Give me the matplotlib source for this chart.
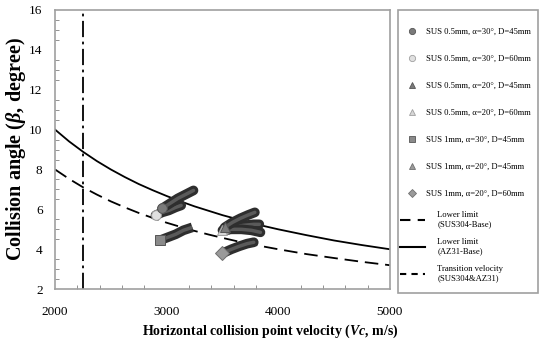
import matplotlib
matplotlib.use("Agg")
import matplotlib.pyplot as plt
from matplotlib.lines import Line2D
from matplotlib.patches import Rectangle
from matplotlib.ticker import MultipleLocator

plt.rcParams['font.family'] = ['Liberation Serif', 'DejaVu Serif']
plt.rcParams['mathtext.fontset'] = 'custom'
plt.rcParams['mathtext.rm'] = 'Liberation Serif:bold'
plt.rcParams['mathtext.it'] = 'Liberation Serif:italic:bold'
plt.rcParams['mathtext.bf'] = 'Liberation Serif:bold'

# limit curves
vc = [2000, 2125, 2250, 2375, 2500, 2625, 2750, 2875, 3000, 3125, 3250, 3375,
      3500, 3625, 3750, 3875, 4000, 4250, 4500, 4750, 5000]
az31_limit = [10.0, 9.41, 8.89, 8.42, 8.0, 7.62, 7.27, 6.96, 6.67, 6.4, 6.15, 5.93,
              5.71, 5.52, 5.33, 5.16, 5.0, 4.71, 4.44, 4.21, 4.0]
sus304_limit = [8.0, 7.53, 7.11, 6.74, 6.4, 6.1, 5.82, 5.57, 5.33, 5.12, 4.92, 4.74,
                4.57, 4.41, 4.27, 4.13, 4.0, 3.76, 3.56, 3.37, 3.2]
transition_vc = 2250

# experiments (first point = front marker)
labels = ["SUS 0.5mm, α=30°, D=45mm", "SUS 0.5mm, α=30°, D=60mm",
          "SUS 0.5mm, α=20°, D=45mm", "SUS 0.5mm, α=20°, D=60mm",
          "SUS 1mm, α=30°, D=45mm", "SUS 1mm, α=20°, D=45mm",
          "SUS 1mm, α=20°, D=60mm"]
xs = [[2960, 3030, 3100, 3170, 3240],
      [2900, 2960, 3020, 3080, 3130],
      [3520, 3590, 3660, 3730, 3790],
      [3500, 3580, 3670, 3760, 3840],
      [2940, 3010, 3080, 3150, 3230],
      [3510, 3600, 3690, 3780, 3830],
      [3500, 3580, 3650, 3720, 3780]]
ys = [[6.05, 6.3, 6.55, 6.75, 6.95],
      [5.7, 5.85, 5.95, 6.1, 6.2],
      [5.1, 5.35, 5.55, 5.72, 5.85],
      [4.95, 5.0, 5.0, 4.95, 4.85],
      [4.45, 4.6, 4.75, 4.95, 5.1],
      [5.0, 5.12, 5.2, 5.25, 5.25],
      [3.8, 4.0, 4.15, 4.28, 4.35]]
markers = ['o', 'o', '^', '^', 's', '^', 'D']
faces = ['#7a7a7a', '#e0e0e0', '#7a7a7a', '#d6d6d6', '#8a8a8a', '#9a9a9a', '#9a9a9a']
edges = ['#555555', '#a0a0a0', '#555555', '#a0a0a0', '#555555', '#707070', '#707070']

fig = plt.figure(figsize=(5.4, 3.43), dpi=100)
ax = fig.add_axes([0.102, 0.157, 0.620, 0.814])

ax.plot(vc, sus304_limit, color='black', lw=1.3, dashes=(7.5, 3.8))
ax.plot(vc, az31_limit, color='black', lw=1.3)
ax.axvline(transition_vc, color='black', lw=1.3, dashes=(9, 2.5, 1.5, 2.5))

for i in range(len(labels))[::-1]:
    cap = 'butt' if markers[i] == 's' else 'round'
    ax.plot(xs[i], ys[i], '-', color='#2e2e2e', lw=7, solid_capstyle=cap, zorder=3)
    ax.plot(xs[i], ys[i], '-', color='#5a5a5a', lw=2.5, solid_capstyle=cap, zorder=3)
    ax.plot(xs[i][0], ys[i][0], markers[i], ms=7, mfc=faces[i], mec=edges[i],
            mew=0.7, zorder=4)

ax.set_xlim(2000, 5000)
ax.set_ylim(2, 16)
ax.xaxis.set_major_locator(MultipleLocator(1000))
ax.xaxis.set_minor_locator(MultipleLocator(200))
ax.yaxis.set_major_locator(MultipleLocator(2))
ax.yaxis.set_minor_locator(MultipleLocator(0.5))
ax.tick_params(which='both', direction='in', color='#808080', labelsize=9.5)
ax.tick_params(which='major', length=0)
ax.tick_params(which='minor', length=3)
ax.tick_params(axis='x', pad=12)
ax.tick_params(axis='y', pad=9)
for s in ax.spines.values():
    s.set_color('#a0a0a0')
    s.set_linewidth(1.2)

ax.set_xlabel(r'Horizontal collision point velocity ($Vc$, m/s)', fontsize=10,
              fontweight='bold')
ax.xaxis.set_label_coords(0.642, -0.12)
ax.set_ylabel(r'Collision angle ($\beta$, degree)', fontsize=14.5,
              fontweight='bold')
ax.yaxis.set_label_coords(-0.082, 0.5)

# legend
fig.patches.append(Rectangle((0.737, 0.146), 0.259, 0.825, transform=fig.transFigure,
                             fill=False, edgecolor='#a0a0a0', lw=1.2))
mh = [Line2D([], [], ls='none', marker=markers[i], ms=4.5, mfc=faces[i],
             mec=edges[i], mew=0.6) for i in range(len(labels))]
fig.legend(handles=mh, labels=labels, loc='upper left',
           bbox_to_anchor=(0.745, 0.918), frameon=False, fontsize=6.2,
           labelspacing=2.2, handlelength=2.2, handletextpad=0.5,
           borderaxespad=0, borderpad=0)
lh = [Line2D([], [], color='black', lw=1.5, dashes=(5, 3.5)),
      Line2D([], [], color='black', lw=1.5),
      Line2D([], [], color='black', lw=1.5, dashes=(3, 2.5))]
lt = ["Lower limit\n(SUS304-Base)", "Lower limit\n(AZ31-Base)",
      "Transition velocity\n(SUS304&AZ31)"]
fig.legend(handles=lh, labels=lt, loc='upper left', bbox_to_anchor=(0.741, 0.385),
           frameon=False, fontsize=6.2, labelspacing=1.14, handlelength=2.9,
           handletextpad=1.4, borderaxespad=0, borderpad=0)

fig.savefig('out.png', dpi=100)
